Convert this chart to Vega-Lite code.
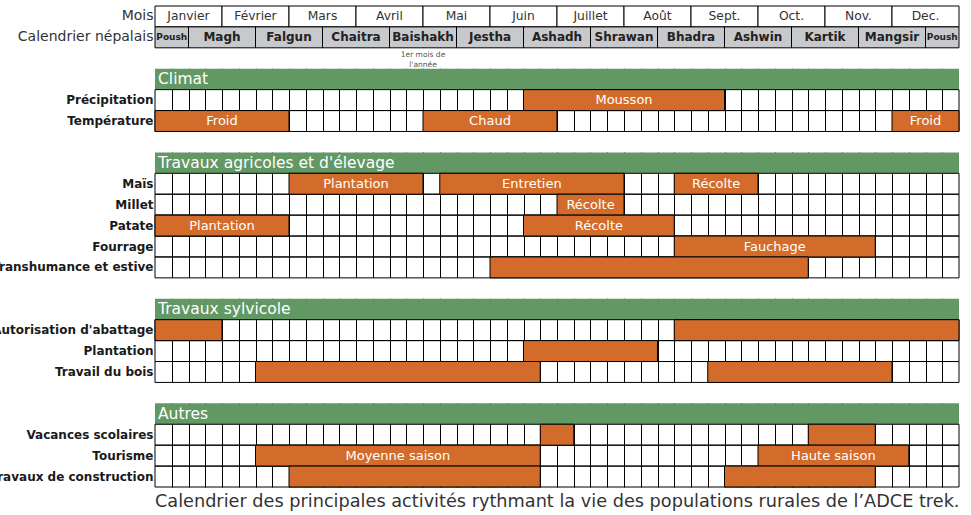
{
  "$schema": "https://vega.github.io/schema/vega-lite/v6.json",
  "width": 804,
  "height": 481,
  "autosize": {"type": "none"},
  "padding": {"left": 155, "top": 6, "right": 12, "bottom": 28},
  "background": "white",
  "title": {
    "text": "Calendrier des principales activités rythmant la vie des populations rurales de l’ADCE trek.",
    "orient": "bottom",
    "anchor": "end",
    "fontSize": 17.7,
    "fontWeight": "normal",
    "color": "#333333",
    "offset": 5
  },
  "datasets": {
    "gaps": [
      {"row": "gap0", "start": 0, "end": 48},
      {"row": "gap1", "start": 0, "end": 48},
      {"row": "gap2", "start": 0, "end": 48},
      {"row": "gap3", "start": 0, "end": 48}
    ],
    "sections": [
      {"row": "Climat", "start": 0, "end": 48},
      {"row": "Travaux agricoles et d'élevage", "start": 0, "end": 48},
      {"row": "Travaux sylvicole", "start": 0, "end": 48},
      {"row": "Autres", "start": 0, "end": 48}
    ],
    "tasks": [
      {"row": "Précipitation", "start": 0, "end": 48},
      {"row": "Température", "start": 0, "end": 48},
      {"row": "Maïs", "start": 0, "end": 48},
      {"row": "Millet", "start": 0, "end": 48},
      {"row": "Patate", "start": 0, "end": 48},
      {"row": "Fourrage", "start": 0, "end": 48},
      {"row": "Transhumance et estive", "start": 0, "end": 48},
      {"row": "Autorisation d'abattage", "start": 0, "end": 48},
      {"row": "Plantation", "start": 0, "end": 48},
      {"row": "Travail du bois", "start": 0, "end": 48},
      {"row": "Vacances scolaires", "start": 0, "end": 48},
      {"row": "Tourisme", "start": 0, "end": 48},
      {"row": "Travaux de construction", "start": 0, "end": 48}
    ],
    "months": [
      {"row": "Mois", "label": "Janvier", "start": 0, "end": 4},
      {"row": "Mois", "label": "Février", "start": 4, "end": 8},
      {"row": "Mois", "label": "Mars", "start": 8, "end": 12},
      {"row": "Mois", "label": "Avril", "start": 12, "end": 16},
      {"row": "Mois", "label": "Mai", "start": 16, "end": 20},
      {"row": "Mois", "label": "Juin", "start": 20, "end": 24},
      {"row": "Mois", "label": "Juillet", "start": 24, "end": 28},
      {"row": "Mois", "label": "Août", "start": 28, "end": 32},
      {"row": "Mois", "label": "Sept.", "start": 32, "end": 36},
      {"row": "Mois", "label": "Oct.", "start": 36, "end": 40},
      {"row": "Mois", "label": "Nov.", "start": 40, "end": 44},
      {"row": "Mois", "label": "Dec.", "start": 44, "end": 48}
    ],
    "nepali": [
      {"row": "Calendrier népalais", "label": "Poush", "start": 0, "end": 2},
      {"row": "Calendrier népalais", "label": "Magh", "start": 2, "end": 6},
      {"row": "Calendrier népalais", "label": "Falgun", "start": 6, "end": 10},
      {"row": "Calendrier népalais", "label": "Chaitra", "start": 10, "end": 14},
      {"row": "Calendrier népalais", "label": "Baishakh", "start": 14, "end": 18, "note": "1er mois de\nl'année"},
      {"row": "Calendrier népalais", "label": "Jestha", "start": 18, "end": 22},
      {"row": "Calendrier népalais", "label": "Ashadh", "start": 22, "end": 26},
      {"row": "Calendrier népalais", "label": "Shrawan", "start": 26, "end": 30},
      {"row": "Calendrier népalais", "label": "Bhadra", "start": 30, "end": 34},
      {"row": "Calendrier népalais", "label": "Ashwin", "start": 34, "end": 38},
      {"row": "Calendrier népalais", "label": "Kartik", "start": 38, "end": 42},
      {"row": "Calendrier népalais", "label": "Mangsir", "start": 42, "end": 46},
      {"row": "Calendrier népalais", "label": "Poush", "start": 46, "end": 48}
    ],
    "bars": [
      {"row": "Précipitation", "start": 22, "end": 34, "label": "Mousson"},
      {"row": "Température", "start": 0, "end": 8, "label": "Froid"},
      {"row": "Température", "start": 16, "end": 24, "label": "Chaud"},
      {"row": "Température", "start": 44, "end": 48, "label": "Froid"},
      {"row": "Maïs", "start": 8, "end": 16, "label": "Plantation"},
      {"row": "Maïs", "start": 17, "end": 28, "label": "Entretien"},
      {"row": "Maïs", "start": 31, "end": 36, "label": "Récolte"},
      {"row": "Millet", "start": 24, "end": 28, "label": "Récolte"},
      {"row": "Patate", "start": 0, "end": 8, "label": "Plantation"},
      {"row": "Patate", "start": 22, "end": 31, "label": "Récolte"},
      {"row": "Fourrage", "start": 31, "end": 43, "label": "Fauchage"},
      {"row": "Transhumance et estive", "start": 20, "end": 39, "label": ""},
      {"row": "Autorisation d'abattage", "start": 0, "end": 4, "label": ""},
      {"row": "Autorisation d'abattage", "start": 31, "end": 48, "label": ""},
      {"row": "Plantation", "start": 22, "end": 30, "label": ""},
      {"row": "Travail du bois", "start": 6, "end": 23, "label": ""},
      {"row": "Travail du bois", "start": 33, "end": 44, "label": ""},
      {"row": "Vacances scolaires", "start": 23, "end": 25, "label": ""},
      {"row": "Vacances scolaires", "start": 39, "end": 43, "label": ""},
      {"row": "Tourisme", "start": 6, "end": 23, "label": "Moyenne saison"},
      {"row": "Tourisme", "start": 36, "end": 45, "label": "Haute saison"},
      {"row": "Travaux de construction", "start": 8, "end": 23, "label": ""},
      {"row": "Travaux de construction", "start": 34, "end": 43, "label": ""}
    ]
  },
  "encoding": {
    "x": {
      "field": "start",
      "type": "quantitative",
      "scale": {"domain": [0, 48], "nice": false, "zero": false},
      "axis": {
        "title": null,
        "labels": false,
        "ticks": false,
        "domain": false,
        "grid": true,
        "values": [1,2,3,4,5,6,7,8,9,10,11,12,13,14,15,16,17,18,19,20,21,22,23,24,25,26,27,28,29,30,31,32,33,34,35,36,37,38,39,40,41,42,43,44,45,46,47],
        "gridColor": "#000000",
        "gridOpacity": 1,
        "gridWidth": 1
      }
    },
    "x2": {"field": "end"},
    "y": {
      "field": "row",
      "type": "nominal",
      "scale": {
        "type": "band",
        "paddingInner": 0,
        "paddingOuter": 0,
        "domain": ["Mois", "Calendrier népalais", "gap0", "Climat", "Précipitation", "Température", "gap1", "Travaux agricoles et d'élevage", "Maïs", "Millet", "Patate", "Fourrage", "Transhumance et estive", "gap2", "Travaux sylvicole", "Autorisation d'abattage", "Plantation", "Travail du bois", "gap3", "Autres", "Vacances scolaires", "Tourisme", "Travaux de construction"]
      },
      "axis": {
        "title": null,
        "domain": false,
        "ticks": false,
        "labelPadding": 2,
        "labelLimit": 400,
        "labelExpr": "indexof(['gap0','gap1','gap2','gap3','Climat','Travaux sylvicole','Autres'], datum.value) >= 0 || indexof(datum.value, 'agricoles') >= 0 ? '' : datum.value",
        "labelFontSize": {"condition": {"test": "datum.value === 'Mois' || datum.value === 'Calendrier népalais'", "value": 14}, "value": 12},
        "labelFontWeight": {"condition": {"test": "datum.value === 'Mois' || datum.value === 'Calendrier népalais'", "value": "normal"}, "value": "bold"},
        "labelColor": {"condition": {"test": "datum.value === 'Mois' || datum.value === 'Calendrier népalais'", "value": "#333333"}, "value": "#1a1a1a"}
      }
    }
  },
  "layer": [
    {
      "data": {"name": "gaps"},
      "mark": {"type": "rect", "fill": "white", "strokeWidth": 0}
    },
    {
      "data": {"name": "sections"},
      "mark": {"type": "rect", "fill": "#629863", "strokeWidth": 0}
    },
    {
      "data": {"name": "sections"},
      "mark": {"type": "text", "align": "left", "baseline": "middle", "dx": 3, "fontSize": 15.5, "color": "white"},
      "encoding": {"text": {"field": "row"}}
    },
    {
      "data": {"name": "tasks"},
      "mark": {"type": "rect", "fill": "white", "fillOpacity": 0, "stroke": "#000000", "strokeWidth": 1}
    },
    {
      "data": {"name": "months"},
      "mark": {"type": "rect", "fill": "white", "stroke": "#000000", "strokeWidth": 1}
    },
    {
      "data": {"name": "months"},
      "transform": [{"calculate": "(datum.start + datum.end) / 2", "as": "mid"}],
      "mark": {"type": "text", "align": "center", "baseline": "middle", "fontSize": 12.3, "color": "#333333"},
      "encoding": {
        "x": {"field": "mid", "type": "quantitative"},
        "text": {"field": "label"}
      }
    },
    {
      "data": {"name": "nepali"},
      "mark": {"type": "rect", "fill": "#c8c9cc", "stroke": "#000000", "strokeWidth": 1}
    },
    {
      "data": {"name": "nepali"},
      "transform": [{"calculate": "(datum.start + datum.end) / 2", "as": "mid"}],
      "mark": {"type": "text", "align": "center", "baseline": "middle", "fontWeight": "bold", "color": "#222222"},
      "encoding": {
        "x": {"field": "mid", "type": "quantitative"},
        "text": {"field": "label"},
        "size": {"condition": {"test": "datum.end - datum.start < 3", "value": 9}, "value": 12}
      }
    },
    {
      "data": {"name": "nepali"},
      "transform": [
        {"filter": "isValid(datum.note)"},
        {"calculate": "(datum.start + datum.end) / 2", "as": "mid"}
      ],
      "mark": {"type": "text", "align": "center", "baseline": "middle", "fontSize": 7.5, "lineBreak": "\n", "lineHeight": 10, "dy": -3, "color": "#555555"},
      "encoding": {
        "x": {"field": "mid", "type": "quantitative"},
        "y": {"datum": "gap0"},
        "text": {"field": "note"}
      }
    },
    {
      "data": {"name": "bars"},
      "mark": {"type": "rect", "fill": "#d36c2a", "stroke": "#000000", "strokeWidth": 1}
    },
    {
      "data": {"name": "bars"},
      "transform": [{"calculate": "(datum.start + datum.end) / 2", "as": "mid"}],
      "mark": {"type": "text", "align": "center", "baseline": "middle", "fontSize": 13, "color": "white"},
      "encoding": {
        "x": {"field": "mid", "type": "quantitative"},
        "text": {"field": "label"}
      }
    }
  ],
  "config": {
    "font": "DejaVu Sans",
    "view": {"stroke": null}
  }
}
